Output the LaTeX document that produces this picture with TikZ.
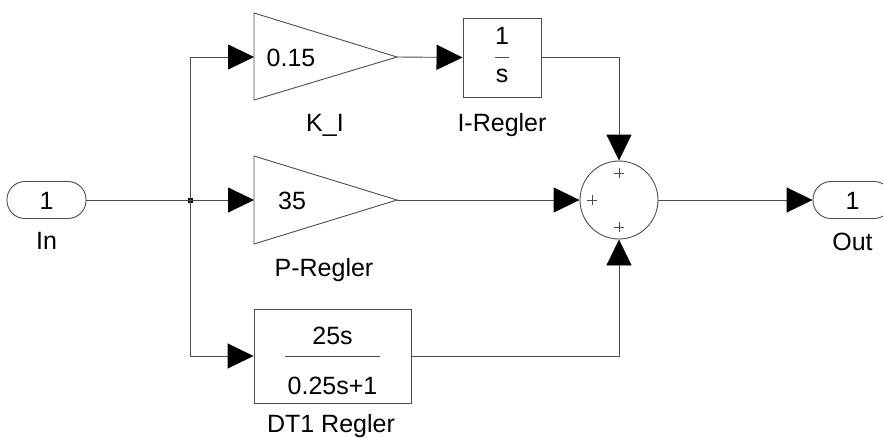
\documentclass[tikz,border=0pt]{standalone}
\usepackage{fontspec}
\setmainfont{Liberation Sans}
\usetikzlibrary{arrows.meta}
\begin{document}
\begin{tikzpicture}[x=1pt,y=-1pt,
  every node/.style={font=\fontsize{25}{29}\selectfont, inner sep=0pt},
  ln/.style={draw=black!70, line width=0.9pt},
  arr/.style={ln, -{Triangle[length=26pt,width=25pt,color=black]}},
  blk/.style={draw=black!70, line width=0.9pt, rectangle},
  port/.style={draw=black!70, line width=0.9pt, rounded corners=18pt, minimum width=79pt, minimum height=37pt},
  txt/.style={anchor=base},
  plus/.style={draw=black!70, line width=0.7pt},
]
\useasboundingbox (0,0) rectangle (883,437);

% ports
\node[port] (in) at (46.5,200) {};
\node[txt] (inone) at (46.5,209) {1};
\node[txt] (inlbl) at (46.5,249) {In};
\node[port] (out) at (852.5,200) {};
\node[txt] (outone) at (852.5,209) {1};
\node[txt] (outlbl) at (852.5,250.5) {Out};

% junction
\coordinate (J) at (190,200);
\fill[black] (187.5,197.5) rectangle (192.5,202.5);

% K_I gain
\coordinate (kiL) at (254,57);
\coordinate (kiT) at (397,57);
\draw[ln] (254,13) -- (kiT) -- (254,100) -- cycle;
\node[txt] (kival) at (291,66) {0.15};
\node[txt] (kilbl) at (325,131.5) {K\_I};

% I-Regler
\node[blk, minimum width=78pt, minimum height=79pt] (ib) at (502,57.5) {};
\node[txt] (ione) at (502,44) {1};
\draw[ln] (495,57) -- (509,57);
\node[txt] (is) at (502,82) {s};
\node[txt] (ilbl) at (502,131) {I-Regler};

% P gain
\coordinate (pL) at (254,200);
\coordinate (pT) at (397,200);
\draw[ln] (254,156) -- (pT) -- (254,244) -- cycle;
\node[txt] (pval) at (292,209) {35};
\node[txt] (plbl) at (324,276) {P-Regler};

% DT1
\node[blk, minimum width=157pt, minimum height=94pt] (dt) at (332.5,356) {};
\node[txt] (dtnum) at (332.5,344) {25s};
\draw[ln] (285,356.5) -- (380,356.5);
\node[txt] (dtden) at (332.5,394) {0.25s+1};
\node[txt] (dtlbl) at (331,432) {DT1 Regler};

% sum
\node[circle, draw=black!70, line width=0.9pt, minimum size=78pt] (sum) at (619,200) {};
\draw[plus] (614,173) -- (624,173) (619,168) -- (619,178);
\draw[plus] (587,200) -- (597,200) (592,195) -- (592,205);
\draw[plus] (614,227) -- (624,227) (619,222) -- (619,232);

% connectors
\draw[ln] (in.east) -- (J);
\draw[arr] (J) |- (kiL);
\draw[arr] (J) -- (pL);
\draw[arr] (J) |- (dt.west);
\draw[arr] (kiT) -- (ib.west);
\draw[arr] (ib.east) -| (sum.north);
\draw[arr] (pT) -- (sum.west);
\draw[arr] (dt.east) -| (sum.south);
\draw[arr] (sum.east) -- (out.west);
\end{tikzpicture}
\end{document}
